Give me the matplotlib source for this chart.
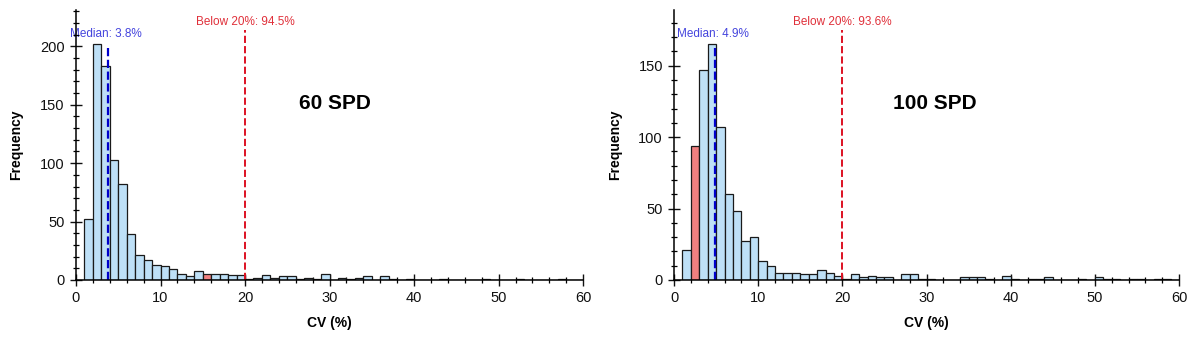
import matplotlib
matplotlib.use("Agg")
import matplotlib.pyplot as plt
import numpy as np
from matplotlib.ticker import MultipleLocator

plt.rcParams['font.family'] = ['Liberation Sans', 'DejaVu Sans']

# bin edges 1..60, width 1 (counts for bins [k, k+1))
bins = np.arange(1, 61)

counts_60 = [52, 202, 183, 103, 82, 39, 21, 17, 13, 12, 9, 5, 3, 8, 5, 5, 5, 4, 4,
             1, 2, 4, 2, 3, 3, 1, 2, 1, 5, 0, 2, 1, 2, 3, 0, 3, 1, 0, 1, 0,
             0, 0, 1, 0, 0, 0, 0, 1, 0, 0, 0, 1, 0, 0, 0, 0, 1, 0, 0]
counts_100 = [21, 94, 147, 165, 107, 60, 48, 27, 30, 13, 10, 5, 5, 5, 4, 4, 7, 5, 3,
              1, 4, 2, 3, 2, 2, 0, 4, 4, 1, 1, 0, 0, 0, 2, 2, 2, 1, 0, 3, 1,
              0, 1, 1, 2, 0, 0, 0, 1, 0, 2, 1, 1, 0, 1, 1, 0, 1, 1, 0]

panels = [
    dict(counts=counts_60, median=3.8, below=94.5, red_bin=15, title="60 SPD", ymax=231, tx=0.51),
    dict(counts=counts_100, median=4.9, below=93.6, red_bin=2, title="100 SPD", ymax=189, tx=0.517),
]

fig = plt.figure(figsize=(12, 3.43), dpi=100)
positions = [[0.0633, 0.1837, 0.4227, 0.787], [0.5617, 0.1837, 0.4208, 0.787]]

for pos, p in zip(positions, panels):
    ax = fig.add_axes(pos)
    colors = ["#F08080" if b == p["red_bin"] else "#BEE0F7" for b in bins[:-1]]
    ax.bar(bins[:-1], p["counts"], width=1, align="edge", color=colors,
           edgecolor="#1a1a1a", linewidth=0.9, zorder=2)

    # median and 20% threshold lines
    ax.axvline(p["median"], ymin=0, ymax=0.87, color="#0000CC", linestyle="--", linewidth=1.6, zorder=3)
    ax.axvline(20, ymin=0, ymax=0.925, color="#DD1122", linestyle="--", linewidth=1.4, zorder=3)

    ax.text(p["median"] - 0.3, p["ymax"] * 0.91, f"Median: {p['median']}%", color="#4444DD",
            fontsize=8.5, ha="center", va="center", zorder=1)
    ax.text(20, p["ymax"] * 0.955, f"Below 20%: {p['below']}%", color="#E0303A",
            fontsize=8.5, ha="center", va="center")
    ax.text(p["tx"], 0.655, p["title"], transform=ax.transAxes, fontsize=15, fontweight="bold",
            ha="center", va="center")

    ax.set_xlim(0, 60)
    ax.set_ylim(0, p["ymax"])
    ax.xaxis.set_major_locator(MultipleLocator(10))
    ax.xaxis.set_minor_locator(MultipleLocator(2))
    ax.yaxis.set_major_locator(MultipleLocator(50))
    ax.yaxis.set_minor_locator(MultipleLocator(10))
    ax.tick_params(which="major", direction="inout", length=9, width=1, labelsize=10.5, colors="#111111")
    ax.tick_params(which="minor", direction="inout", length=5, width=0.9)
    for s in ["top", "right"]:
        ax.spines[s].set_visible(False)
    for s in ["left", "bottom"]:
        ax.spines[s].set_linewidth(1.1)
        ax.spines[s].set_zorder(4)
    ax.set_xlabel("CV (%)", fontsize=10, fontweight="bold", labelpad=8)
    ax.set_ylabel("Frequency", fontsize=10, fontweight="bold", labelpad=12)

fig.savefig("out.png", dpi=100)
